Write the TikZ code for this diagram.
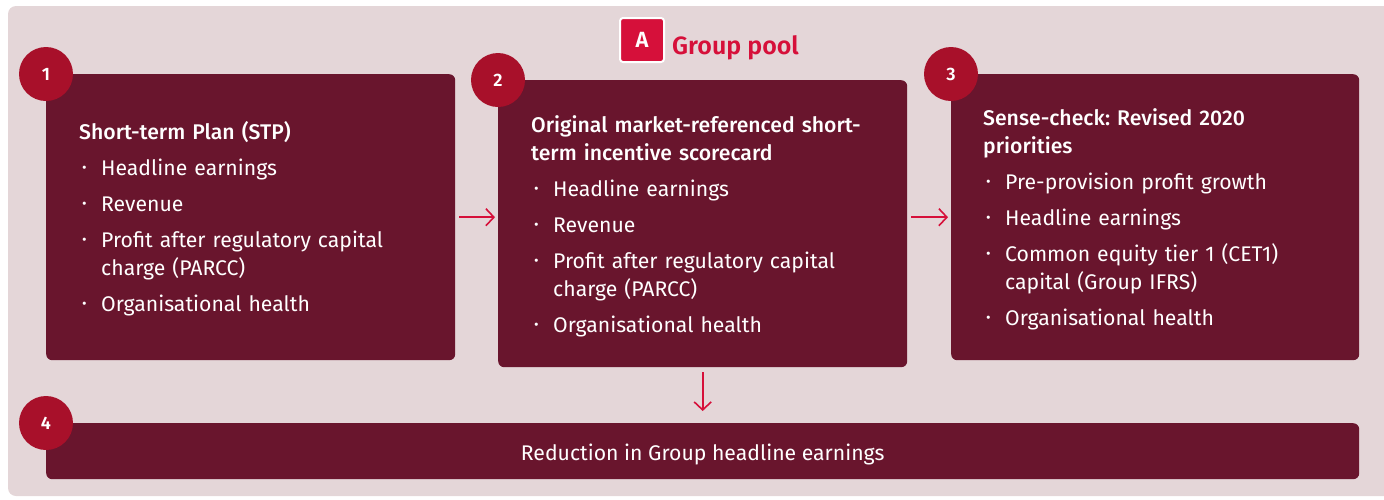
\documentclass[tikz,border=0pt]{standalone}
\usepackage{fontspec}
\setmainfont{Fira Sans}[BoldFont={Fira Sans Medium}]
\newfontfamily\kopf{Fira Sans SemiBold}
\frenchspacing
\usetikzlibrary{arrows.meta, positioning}

\definecolor{panelpink}{HTML}{E4D6D8}
\definecolor{wine}{HTML}{69152D}
\definecolor{ruby}{HTML}{A8102A}
\definecolor{signal}{HTML}{D6103A}

% one bullet line of a box, with hanging indent for wrapped lines
\newcommand{\punkt}[1]{\par\vspace{8pt}\hangindent=22pt\hangafter=1\noindent
  \makebox[22pt][l]{\hspace{3pt}\raisebox{2.5pt}{\fontsize{14}{14}\selectfont\textbullet}}#1}

\begin{document}
\begin{tikzpicture}[
    x=1pt, y=-1pt,
    kasse/.style = {rectangle, fill=wine, rounded corners=6pt, anchor=north west, inner sep=0},
    nummer/.style = {circle, fill=ruby, minimum size=54pt, inner sep=0,
                     text=white, font=\fontsize{18}{18}\selectfont\kopf},
    txt/.style = {anchor=north west, inner sep=0, text=white, align=left,
                  font=\fontsize{21.2}{28}\selectfont},
    pil/.style = {signal, line width=1.6pt, -{Straight Barb[length=8pt, width=17pt]}},
    font=\fontsize{21.2}{28}\selectfont
    ]

  \useasboundingbox (0,0) rectangle (1384,499);
  \fill[panelpink, rounded corners=8pt] (8,6) rectangle (1400,496);

  % the heading
  \node[rectangle, fill=signal, draw=white, line width=2pt, rounded corners=3pt,
        minimum size=44pt, inner sep=0, text=white,
        font=\fontsize{22}{22}\selectfont\kopf] (A) at (642,40) {A};
  \node[anchor=base west, text=signal, inner sep=0,
        font=\fontsize{25}{25}\selectfont\kopf] (pool) at (672,54) {Group pool};

  % the four boxes
  \node[kasse, minimum width=409pt, minimum height=286pt] (b1) at (46,74) {};
  \node[kasse, minimum width=409pt, minimum height=287pt] (b2) at (498,80) {};
  \node[kasse, minimum width=408pt, minimum height=286pt] (b3) at (951,74) {};
  \node[kasse, minimum width=1313pt, minimum height=56pt] (b4) at (46,423) {};

  \node[txt, text width=360pt] (t1) at (79,121) {%
    \textbf{Short-term Plan (STP)}
    \punkt{Headline earnings}
    \punkt{Revenue}
    \punkt{Profit after regulatory capital\newline charge (PARCC)}
    \punkt{Organisational health}};

  \node[txt, text width=360pt] (t2) at (531,115) {%
    \textbf{Original market-referenced short-}\\\textbf{term incentive scorecard}
    \punkt{Headline earnings}
    \punkt{Revenue}
    \punkt{Profit after regulatory capital\newline charge (PARCC)}
    \punkt{Organisational health}};

  \node[txt, text width=360pt] (t3) at (983,108) {%
    \textbf{Sense-check: Revised 2020}\\\textbf{priorities}
    \punkt{Pre-provision profit growth}
    \punkt{Headline earnings}
    \punkt{Common equity tier 1 (CET1)\newline capital (Group IFRS)}
    \punkt{Organisational health}};

  \node[text=white, inner sep=0] (t4) at ([yshift=-3pt]b4.center) {Reduction in Group headline earnings};

  % number badges on the corners
  \node[nummer] (n1) at (b1.north west) {1};
  \node[nummer] (n2) at (b2.north west) {2};
  \node[nummer] (n3) at (b3.north west) {3};
  \node[nummer] (n4) at (b4.north west) {4};

  \draw[pil, shorten <=4pt, shorten >=3pt] (b1.east) -- (b1.east -| b2.west);
  \draw[pil, shorten <=4pt, shorten >=3pt] (b3.west -| b2.east) -- (b3.west);
  \draw[pil, shorten <=5pt, shorten >=12pt] (b2.south) -- (b2.south |- b4.north);
\end{tikzpicture}
\end{document}
